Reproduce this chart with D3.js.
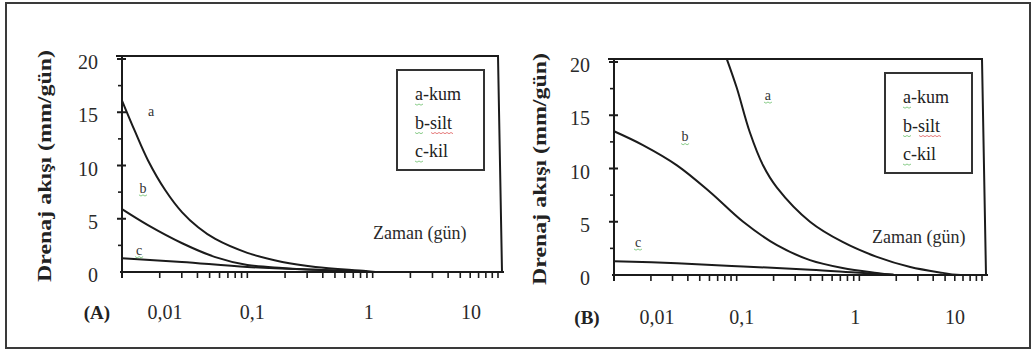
<!DOCTYPE html>
<html>
<head>
<meta charset="utf-8">
<script src="https://cdn.jsdelivr.net/npm/d3@7"></script>
<style>
  body { margin: 0; background: #fff; }
  svg { display: block; }
  svg text { font-family: "Liberation Serif", "DejaVu Serif", "Times New Roman", serif; }
</style>
</head>
<body>
<svg id="chart" width="1032" height="354"></svg>
<script>
// --- Data ---
const xTickValues = [0.01, 0.1, 1, 10];
const xTickLabels = ["0,01", "0,1", "1", "10"];
const yTickValues = [0, 5, 10, 15, 20];
const yMinorValues = [2.5, 7.5, 12.5, 17.5];
const seriesKeys = ["a", "b", "c"];
const legendLabels = ["a-kum", "b-silt", "c-kil"];

// Panel A: [zaman (gün), drenaj akışı (mm/gün)]
const aKum = [[0.01, 16.1], [0.0127, 13.2], [0.0161, 10.5], [0.0221, 7.7], [0.0302, 5.6], [0.0405, 4.2],
  [0.0555, 3.1], [0.1, 1.8], [0.19, 0.94], [0.35, 0.47], [0.88, 0.1], [1.05, 0.0]];
const aSilt = [[0.01, 5.9], [0.0161, 4.4], [0.0302, 2.7], [0.0555, 1.4], [0.1, 0.66], [0.19, 0.37],
  [0.35, 0.2], [0.9, 0.03]];
const aKil = [[0.01, 1.3], [0.03, 0.94], [0.1, 0.47], [0.35, 0.2], [0.9, 0.04]];
const aLabelAt = [[0.0171, 15.1], [0.0147, 7.9], [0.0137, 2.1]];

// Panel B
const bKum = [[0.083, 20.3], [0.1, 17.6], [0.128, 13.4], [0.164, 10.3], [0.213, 8.2], [0.396, 5.0],
  [0.73, 3.1], [1.39, 1.7], [2.6, 0.75], [4.8, 0.2], [6.2, 0.02], [8, 0.0]];
const bSilt = [[0.01, 13.5], [0.0172, 12.2], [0.0326, 10.3], [0.0606, 7.8], [0.113, 5.0], [0.213, 2.8],
  [0.396, 1.4], [0.73, 0.66], [1.39, 0.2], [1.9, 0.02]];
const bKil = [[0.01, 1.3], [0.0326, 1.1], [0.113, 0.8], [0.4, 0.5], [1.0, 0.2], [1.9, 0.02]];
const bLabelAt = [[0.18, 16.9], [0.038, 13.0], [0.0157, 3.1]];

// --- Layout ---
const ink = "#1b1b1b";
const serif = "'Liberation Serif', 'DejaVu Serif', serif";
const panels = [
  { name: "(A)", left: 122, right: 498, top: 56, y0: 272, y20: 59, series: [aKum, aSilt, aKil], labels: aLabelAt,
    tickY: 312, nameX: 97, legX: 397, legY: 70, zamanX: 373, zamanY: 239, titleX: 45 },
  { name: "(B)", left: 614, right: 982, top: 59, y0: 275, y20: 62, series: [bKum, bSilt, bKil], labels: bLabelAt,
    tickY: 317, nameX: 587, legX: 885, legY: 73, zamanX: 872, zamanY: 243, titleX: 540 }
];
// the printed x labels are nudged away from their decade ticks
const labelNudge = [43, 5, -4, -27];

const svg = d3.select("#chart");

// outer frame
svg.append("rect")
  .attr("x", 6).attr("y", 3).attr("width", 1024).attr("height", 345)
  .attr("fill", "none").attr("stroke", "#3a3a3a").attr("stroke-width", 2);

function squiggle(g, x, y, w, color) {
  const pts = d3.range(0, Math.round(w / 2) + 1).map(i => [x + i * 2, y + (i % 2 ? 1.2 : 0)]);
  g.append("path").attr("d", d3.line()(pts))
    .attr("fill", "none").attr("stroke", color).attr("stroke-width", 0.8);
}

panels.forEach(p => {
  const g = svg.append("g").attr("font-family", serif);
  const x = d3.scaleLog().domain([0.01, 10]).range([p.left, p.right]);
  const y = d3.scaleLinear().domain([0, 20]).range([p.y0, p.y20]);

  // frame: top edge and slanted right edge
  g.append("path")
    .attr("d", `M${p.left - 6},${p.top}H${p.right}L${p.right + 4},${p.y0}`)
    .attr("fill", "none").attr("stroke", ink).attr("stroke-width", 2);

  // y axis line
  g.append("line")
    .attr("x1", p.left).attr("x2", p.left)
    .attr("y1", p.top).attr("y2", p.y0 + 6)
    .attr("stroke", ink).attr("stroke-width", 2);

  // x axis line
  g.append("line")
    .attr("x1", p.left - 2).attr("x2", p.right + 6)
    .attr("y1", p.y0).attr("y2", p.y0)
    .attr("stroke", ink).attr("stroke-width", 2);

  // y ticks
  g.selectAll(".ymaj").data(yTickValues.filter(v => v > 0)).enter().append("line")
    .attr("x1", p.left - 5).attr("x2", p.left + 4)
    .attr("y1", d => y(d)).attr("y2", d => y(d))
    .attr("stroke", ink).attr("stroke-width", 2);
  g.selectAll(".ymin").data(yMinorValues).enter().append("line")
    .attr("x1", p.left - 4).attr("x2", p.left)
    .attr("y1", d => y(d)).attr("y2", d => y(d))
    .attr("stroke", ink).attr("stroke-width", 1.6);

  // y tick labels
  g.selectAll(".ylab").data(yTickValues).enter().append("text")
    .attr("x", p.left - 24).attr("y", d => y(d) + 3)
    .attr("dy", "0.35em").attr("text-anchor", "end")
    .attr("font-size", 20).attr("fill", "#2a2a2a")
    .text(d => d);

  // x ticks (log minor ticks)
  g.selectAll(".xt").data(x.ticks()).enter().append("line")
    .attr("x1", d => x(d)).attr("x2", d => x(d))
    .attr("y1", p.y0).attr("y2", p.y0 + 6)
    .attr("stroke", ink).attr("stroke-width", 1.6);

  // x tick labels
  g.selectAll(".xlab").data(xTickValues).enter().append("text")
    .attr("x", (d, i) => x(d) + labelNudge[i]).attr("y", p.tickY)
    .attr("dy", "0.35em").attr("text-anchor", "middle")
    .attr("font-size", 20).attr("fill", "#2a2a2a")
    .text((d, i) => xTickLabels[i]);

  // panel letter
  g.append("text")
    .attr("x", p.nameX).attr("y", p.tickY).attr("dy", "0.35em")
    .attr("text-anchor", "middle").attr("font-size", 19).attr("font-weight", "bold")
    .attr("fill", "#222").text(p.name);

  // y title (stretched lengthwise like the original)
  g.append("text")
    .attr("transform", `translate(${p.titleX + 6},${(p.top + p.y0) / 2 + 2}) rotate(-90)`)
    .attr("text-anchor", "middle").attr("font-size", 19).attr("font-weight", "bold")
    .attr("fill", "#222")
    .attr("textLength", 232).attr("lengthAdjust", "spacingAndGlyphs")
    .text("Drenaj akışı (mm/gün)");

  // curves
  const line = d3.line().x(d => x(d[0])).y(d => y(d[1])).curve(d3.curveCatmullRom.alpha(0.5));
  g.selectAll(".curve").data(p.series).enter().append("path")
    .attr("d", line)
    .attr("fill", "none").attr("stroke", ink).attr("stroke-width", 2);

  // curve labels
  p.labels.forEach((d, i) => {
    g.append("text")
      .attr("x", x(d[0])).attr("y", y(d[1])).attr("dy", "0.35em")
      .attr("text-anchor", "middle").attr("font-size", 14).attr("fill", "#333")
      .text(seriesKeys[i]);
    if (p.name === "(B)" || i > 0) squiggle(g, x(d[0]) - 4, y(d[1]) + 7, 8, "#6bbf6b");
  });

  // x title
  g.append("text")
    .attr("x", p.zamanX).attr("y", p.zamanY)
    .attr("font-size", 18).attr("fill", "#2a2a2a")
    .text("Zaman (gün)");

  // legend
  g.append("rect")
    .attr("x", p.legX).attr("y", p.legY).attr("width", 87).attr("height", 100)
    .attr("fill", "none").attr("stroke", "#333").attr("stroke-width", 2);
  legendLabels.forEach((lab, i) => {
    const ty = p.legY + 30 + i * 28.5;
    g.append("text")
      .attr("x", p.legX + 18).attr("y", ty)
      .attr("font-size", 18).attr("fill", "#222")
      .text(lab);
    squiggle(g, p.legX + 18, ty + 4, 8, "#6bbf6b");
    if (i === 1) squiggle(g, p.legX + 34, ty + 4, 22, "#e05a5a");
  });
});
</script>
</body>
</html>
